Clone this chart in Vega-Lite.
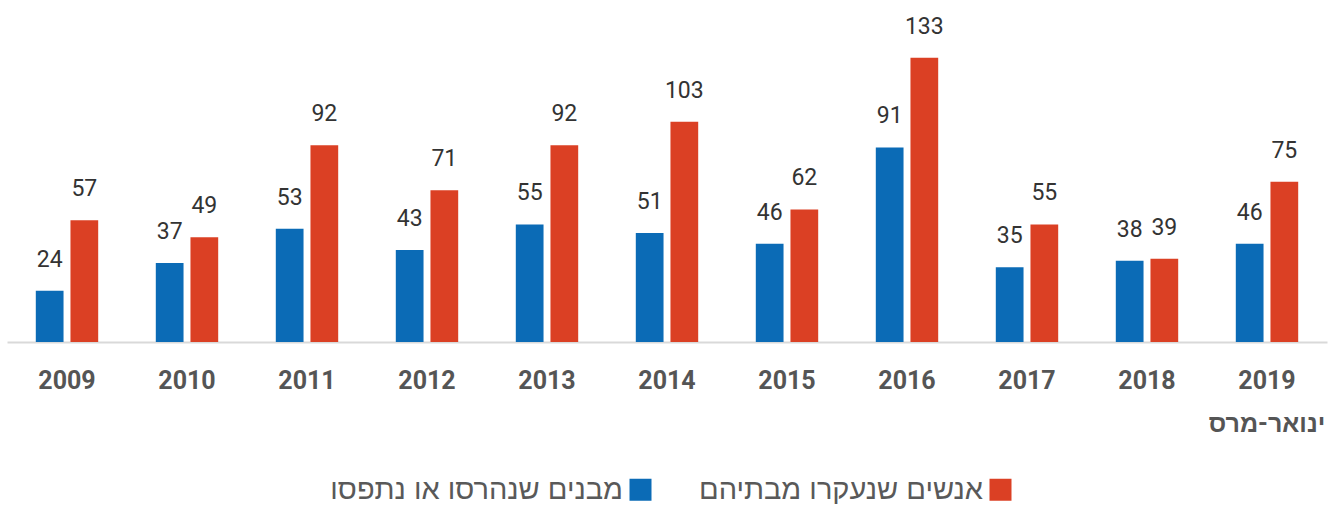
{
  "$schema": "https://vega.github.io/schema/vega-lite/v6.json",
  "width": 1320,
  "height": 342,
  "padding": {"left": 7, "top": 0, "right": 12, "bottom": 0},
  "background": "white",
  "config": {"view": {"stroke": null}},
  "data": {"values": [
    {"year": "2009", "series": "מבנים שנהרסו או נתפסו", "value": 24},
    {"year": "2010", "series": "מבנים שנהרסו או נתפסו", "value": 37},
    {"year": "2011", "series": "מבנים שנהרסו או נתפסו", "value": 53},
    {"year": "2012", "series": "מבנים שנהרסו או נתפסו", "value": 43},
    {"year": "2013", "series": "מבנים שנהרסו או נתפסו", "value": 55},
    {"year": "2014", "series": "מבנים שנהרסו או נתפסו", "value": 51},
    {"year": "2015", "series": "מבנים שנהרסו או נתפסו", "value": 46},
    {"year": "2016", "series": "מבנים שנהרסו או נתפסו", "value": 91},
    {"year": "2017", "series": "מבנים שנהרסו או נתפסו", "value": 35},
    {"year": "2018", "series": "מבנים שנהרסו או נתפסו", "value": 38},
    {"year": "2019", "series": "מבנים שנהרסו או נתפסו", "value": 46},
    {"year": "2009", "series": "אנשים שנעקרו מבתיהם", "value": 57},
    {"year": "2010", "series": "אנשים שנעקרו מבתיהם", "value": 49},
    {"year": "2011", "series": "אנשים שנעקרו מבתיהם", "value": 92},
    {"year": "2012", "series": "אנשים שנעקרו מבתיהם", "value": 71},
    {"year": "2013", "series": "אנשים שנעקרו מבתיהם", "value": 92},
    {"year": "2014", "series": "אנשים שנעקרו מבתיהם", "value": 103},
    {"year": "2015", "series": "אנשים שנעקרו מבתיהם", "value": 62},
    {"year": "2016", "series": "אנשים שנעקרו מבתיהם", "value": 133},
    {"year": "2017", "series": "אנשים שנעקרו מבתיהם", "value": 55},
    {"year": "2018", "series": "אנשים שנעקרו מבתיהם", "value": 39},
    {"year": "2019", "series": "אנשים שנעקרו מבתיהם", "value": 75}
  ]},
  "encoding": {
    "x": {
      "field": "year", "type": "nominal",
      "scale": {"paddingInner": 0.48, "paddingOuter": 0.24},
      "axis": {
        "title": null, "ticks": false, "grid": false,
        "domainColor": "#d9d9d9", "domainWidth": 2,
        "labelAngle": 0,
        "labelFont": "Roboto, Liberation Sans, Arial",
        "labelFontWeight": "bold", "labelFontSize": 25, "labelColor": "#555555",
        "labelPadding": 26, "labelLineHeight": 43,
        "labelExpr": "datum.value == '2019' ? ['2019', 'ינואר-מרס'] : datum.label"
      }
    },
    "xOffset": {
      "field": "series", "type": "nominal",
      "sort": ["מבנים שנהרסו או נתפסו", "אנשים שנעקרו מבתיהם"],
      "scale": {"paddingInner": 0.2, "paddingOuter": 0}
    },
    "y": {
      "field": "value", "type": "quantitative",
      "scale": {"domain": [0, 160], "nice": false},
      "axis": null
    }
  },
  "layer": [
    {
      "mark": {"type": "bar"},
      "encoding": {
        "color": {
          "field": "series", "type": "nominal",
          "scale": {"domain": ["מבנים שנהרסו או נתפסו", "אנשים שנעקרו מבתיהם"], "range": ["#0b6bb6", "#db4024"]},
          "legend": {
            "title": null, "orient": "none", "direction": "horizontal",
            "legendX": 619, "legendY": 475,
            "symbolType": "square", "symbolSize": 484, "symbolStrokeWidth": 0, "symbolOpacity": 1,
            "labelFont": "Liberation Sans, Arial", "labelFontSize": 29, "labelColor": "#595959",
            "labelAlign": "right", "labelOffset": -32, "labelLimit": 400,
            "columnPadding": 46
          }
        }
      }
    },
    {
      "mark": {"type": "text", "baseline": "alphabetic", "dy": -24, "font": "Roboto", "fontSize": 23, "color": "#333333"},
      "encoding": {"text": {"field": "value", "type": "quantitative"}}
    }
  ]
}
